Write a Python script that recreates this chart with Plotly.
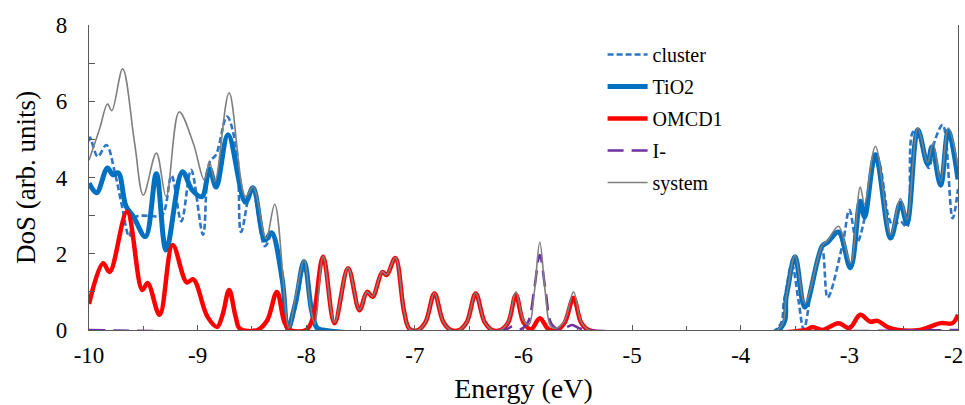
import plotly.graph_objects as go

# ---------------- data ----------------
cluster_x = [-10.0, -9.99, -9.92, -9.84, -9.76, -9.70, -9.63, -9.58, -9.45, -9.33, -9.24, -9.15,
             -9.06, -8.95, -8.89, -8.83, -8.73, -8.64, -8.60, -8.50, -8.38, -8.31, -8.22, -8.16,
             -8.09, -8.02, -7.94, -7.88, -3.68, -3.60, -3.53, -3.47, -3.42, -3.33, -3.25, -3.20,
             -3.06, -3.00, -2.93, -2.85, -2.79, -2.74, -2.64, -2.60, -2.53, -2.47, -2.42, -2.38,
             -2.27, -2.21, -2.14, -2.05, -2.0]
cluster_y = [4.95, 5.05, 4.55, 4.85, 4.1, 3.3, 2.45, 2.95, 3.0, 3.0, 4.05, 2.85,
             4.2, 2.5, 4.4, 4.6, 5.6, 4.7, 2.57, 3.75, 2.2, 2.55, 1.2, 0.02,
             0.7, 1.65, 0.3, 0.0, 0.0, 0.8, 1.72, 0.8, 0.02, 1.4, 2.1, 0.85,
             2.28, 3.15, 2.3, 3.07, 4.28, 4.46, 2.97, 2.75, 2.85, 2.7, 5.17, 5.25,
             4.25, 5.0, 5.38, 2.93, 3.7]

tio2_x = [-10.0, -9.93, -9.83, -9.78, -9.73, -9.66, -9.59, -9.48, -9.38, -9.29, -9.14, -9.05,
          -8.96, -8.89, -8.83, -8.72, -8.56, -8.49, -8.38, -8.32, -8.22, -8.17, -8.10, -8.02,
          -7.95, -7.90, -7.85, -3.65, -3.58, -3.50, -3.41, -3.25, -3.20, -3.10, -2.99, -2.90,
          -2.86, -2.76, -2.62, -2.53, -2.47, -2.37, -2.28, -2.24, -2.16, -2.09, -2.0]
tio2_y = [3.85, 3.6, 4.25, 4.07, 4.12, 3.25, 2.97, 2.45, 4.1, 2.1, 4.15, 3.67,
          3.5, 4.22, 3.75, 5.12, 3.35, 3.73, 2.36, 2.55, 1.3, 0.02, 0.7, 1.8,
          0.5, 0.05, 0.0, 0.0, 0.9, 1.92, 0.6, 2.2, 2.3, 2.57, 1.63, 3.38,
          2.97, 4.6, 2.41, 3.33, 2.8, 5.25, 4.35, 4.8, 3.8, 5.22, 3.95]

omcd1_x = [-10.0, -9.87, -9.81, -9.65, -9.51, -9.46, -9.35, -9.23, -9.10, -9.04, -8.91, -8.82,
           -8.77, -8.71, -8.65, -8.61, -8.45, -8.36, -8.27, -8.20, -8.15, -8.0, -7.94, -7.845,
           -7.74, -7.615, -7.51, -7.44, -7.39, -7.30, -7.26, -7.18, -7.10, -7.05, -6.97, -6.90,
           -6.82, -6.74, -6.67, -6.59, -6.52, -6.44, -6.36, -6.29, -6.21, -6.14, -6.07, -6.00,
           -5.93, -5.85, -5.77, -5.69, -5.62, -5.54, -5.47, -5.40, -3.40, -3.34, -3.25, -3.10,
           -3.00, -2.90, -2.81, -2.74, -2.65, -2.55, -2.35, -2.16, -2.05, -2.0]
omcd1_y = [0.68, 1.75, 1.52, 3.1, 1.05, 1.23, 0.4, 2.23, 1.25, 1.33, 0.35, 0.08,
           0.4, 1.05, 0.35, 0.03, 0.0, 0.25, 1.0, 0.2, 0.0, 0.0, 0.3, 1.92,
           0.18, 1.62, 0.52, 1.0, 0.87, 1.52, 1.44, 1.89, 0.5, 0.03, 0.0, 0.22,
           0.96, 0.22, 0.0, 0.0, 0.22, 0.96, 0.22, 0.0, 0.0, 0.2, 0.92, 0.2,
           0.02, 0.31, 0.02, 0.0, 0.2, 0.84, 0.2, 0.0, 0.0, 0.08, 0.0, 0.18,
           0.05, 0.4, 0.22, 0.24, 0.08, 0.0, 0.0, 0.18, 0.18, 0.4]

iodide_x = [-10.0, -6.18, -6.10, -6.03, -5.96, -5.90, -5.85, -5.80, -5.74, -5.67, -5.60, -5.55,
            -5.49, -5.42, -2.0]
iodide_y = [0.0, 0.0, 0.09, 0.02, 0.2, 1.1, 1.97, 1.1, 0.15, 0.02, 0.08, 0.13,
            0.05, 0.0, 0.0]

system_x = [-10.0, -9.90, -9.83, -9.79, -9.69, -9.58, -9.50, -9.38, -9.29, -9.17, -9.04, -8.94,
            -8.89, -8.84, -8.71, -8.56, -8.49, -8.37, -8.29, -8.16, -8.10, -8.02, -7.96, -7.92,
            -7.845, -7.74, -7.615, -7.51, -7.44, -7.39, -7.30, -7.26, -7.18, -7.10, -7.05, -6.97,
            -6.90, -6.82, -6.74, -6.67, -6.59, -6.52, -6.44, -6.36, -6.29, -6.21, -6.14, -6.07,
            -6.00, -5.95, -5.90, -5.85, -5.80, -5.75, -5.70, -5.62, -5.54, -5.47, -5.40, -3.66,
            -3.58, -3.50, -3.41, -3.25, -3.20, -3.10, -2.99, -2.90, -2.86, -2.76, -2.62, -2.53,
            -2.47, -2.37, -2.28, -2.23, -2.16, -2.09, -2.0]
system_y = [4.45, 5.3, 5.93, 5.75, 6.85, 4.9, 3.54, 4.64, 3.5, 5.72, 4.9, 3.94,
            4.4, 3.9, 6.22, 3.5, 3.75, 2.4, 3.3, 0.05, 0.85, 1.84, 0.6, 0.15,
            1.93, 0.2, 1.63, 0.53, 1.0, 0.88, 1.53, 1.45, 1.9, 0.5, 0.03, 0.0,
            0.22, 0.97, 0.22, 0.0, 0.0, 0.22, 0.97, 0.22, 0.0, 0.0, 0.22, 1.0,
            0.25, 0.15, 1.0, 2.31, 1.0, 0.1, 0.05, 0.25, 1.0, 0.22, 0.0, 0.0,
            0.9, 1.95, 0.7, 2.22, 2.35, 2.72, 1.75, 3.75, 3.3, 4.82, 2.5, 3.45,
            2.9, 5.3, 4.4, 4.9, 3.9, 5.3, 4.3]

x_tick_vals = [-10, -9, -8, -7, -6, -5, -4, -3, -2]
x_tick_text = ["-10", "-9", "-8", "-7", "-6", "-5", "-4", "-3", "-2"]
y_tick_vals = [0, 2, 4, 6, 8]
y_tick_text = ["0", "2", "4", "6", "8"]

FONT = "Liberation Serif, Times New Roman, serif"

fig = go.Figure()
fig.add_trace(go.Scatter(x=cluster_x, y=cluster_y, name="cluster", mode="lines",
                         line=dict(color="#2E75C8", width=2.6, dash="6px,3px", shape="spline", smoothing=1.0)))
fig.add_trace(go.Scatter(x=tio2_x, y=tio2_y, name="TiO2", mode="lines",
                         line=dict(color="#0070C0", width=5, shape="spline", smoothing=1.0)))
fig.add_trace(go.Scatter(x=omcd1_x, y=omcd1_y, name="OMCD1", mode="lines",
                         line=dict(color="#FF0000", width=4.5, shape="spline", smoothing=1.0)))
fig.add_trace(go.Scatter(x=iodide_x, y=iodide_y, name="I-", mode="lines",
                         line=dict(color="#7030A0", width=2.5, dash="16px,8px", shape="spline", smoothing=1.0)))
fig.add_trace(go.Scatter(x=system_x, y=system_y, name="system", mode="lines",
                         line=dict(color="#7F7F7F", width=1.6, shape="spline", smoothing=1.0)))

fig.update_layout(
    width=965, height=405,
    margin=dict(l=89, r=7, t=25, b=75, autoexpand=False),
    paper_bgcolor="white", plot_bgcolor="white",
    font=dict(family=FONT, size=22, color="black"),
    legend=dict(x=0.591, y=0.967, xanchor="left", yanchor="top",
                bgcolor="rgba(0,0,0,0)", font=dict(family=FONT, size=20, color="black"),
                tracegroupgap=3, traceorder="grouped", itemwidth=40),
)
for i, tr in enumerate(fig.data):
    tr.legendgroup = "g%d" % i

# the last tick label sits at the page edge: draw it as a slightly shifted label
axis_tick_text = x_tick_text[:-1] + [""]
fig.add_annotation(x=x_tick_vals[-1], xref="x", y=0, yref="paper", text=x_tick_text[-1],
                   showarrow=False, xanchor="center", yanchor="middle", xshift=-5, yshift=-25,
                   font=dict(family=FONT, size=23, color="black"))

fig.update_xaxes(
    range=[-10, -2], tickmode="array", tickvals=x_tick_vals, ticktext=axis_tick_text,
    showgrid=False, zeroline=False, showline=True, linecolor="#595959", linewidth=1.3,
    ticks="inside", ticklen=5, tickcolor="#595959", automargin=False,
    minor=dict(dtick=0.5, ticks="inside", ticklen=4, tickcolor="#595959", showgrid=False),
    tickfont=dict(family=FONT, size=23), ticklabelstandoff=4,
    title=dict(text="Energy (eV)", font=dict(family=FONT, size=28), standoff=11),
)
fig.update_yaxes(
    range=[0, 8], tickmode="array", tickvals=y_tick_vals, ticktext=y_tick_text,
    showgrid=False, zeroline=False, showline=True, mirror=True, linecolor="#595959", linewidth=1.3,
    ticks="inside", ticklen=6, tickcolor="#595959", automargin=False,
    minor=dict(dtick=1, ticks="inside", ticklen=6, tickcolor="#595959", showgrid=False),
    tickfont=dict(family=FONT, size=23), ticklabelstandoff=16,
    title=dict(text="DoS (arb. units)", font=dict(family=FONT, size=27), standoff=12),
)

fig.write_html("out.html")
